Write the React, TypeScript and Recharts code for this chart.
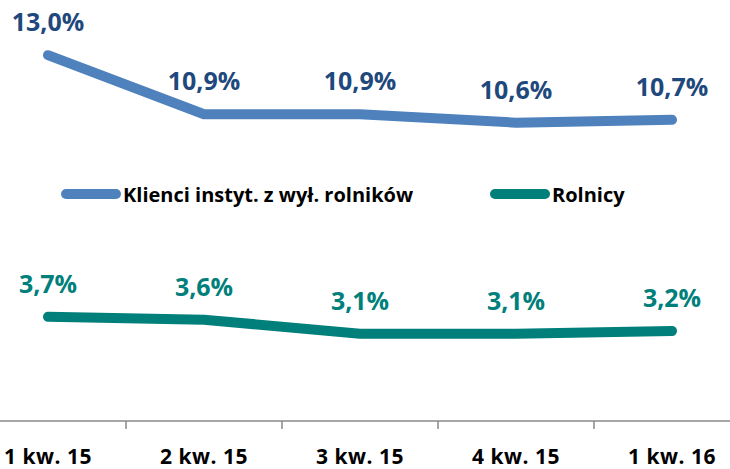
import React from "react";
import { LineChart, Line, XAxis, YAxis, LabelList } from "recharts";

const quarters = ["1 kw. 15", "2 kw. 15", "3 kw. 15", "4 kw. 15", "1 kw. 16"];
const klienci = [13.0, 10.9, 10.9, 10.6, 10.7];
const rolnicy = [3.7, 3.6, 3.1, 3.1, 3.2];
const seriesNames = ["Klienci instyt. z wył. rolników", "Rolnicy"];

const W = 730;
const H = 469;
// wykres szerszy niż okno: pierwsza i ostatnia kategoria wychodzą poza krawędź
const OVERHANG_L = 30;
const OVERHANG_R = 20;
const SVG_W = W + OVERHANG_L + OVERHANG_R;
const XAXIS_H = 48;
const AXIS_Y = H - XAXIS_H;
const MARGIN = { top: 27, right: 0, left: 0, bottom: 0 };

const LABEL_FONT = "'Liberation Sans Narrow', 'Open Sans', sans-serif";
const FONT = "'Open Sans', Lato, sans-serif";
const AXIS_GREY = "#898989";

const BLUE = "#4F81BD";
const BLUE_LABEL = "#1F497D";
const TEAL = "#007F7B";

const chartData = quarters.map((q, i) => ({
  name: q,
  klienci: klienci[i],
  rolnicy: rolnicy[i],
}));

const halfBand = SVG_W / quarters.length / 2;

const fmt = (v: number) => v.toFixed(1).replace(".", ",") + "%";

function makeLabel(color: string) {
  return (props: any) => {
    const { x, y, value } = props;
    return (
      <text
        x={x}
        y={y - 34}
        textAnchor="middle"
        dominantBaseline="central"
        fill={color}
        fontFamily={LABEL_FONT}
        fontWeight={700}
        fontSize={25}
      >
        {fmt(value)}
      </text>
    );
  };
}

// kreski podziałki między kategoriami, jak w Excelu
function QuarterTick(props: any) {
  const { x, payload, index } = props;
  return (
    <g>
      {index < quarters.length - 1 && (
        <line
          x1={x + halfBand}
          x2={x + halfBand}
          y1={AXIS_Y}
          y2={AXIS_Y + 8}
          stroke={AXIS_GREY}
          strokeWidth={1.5}
        />
      )}
      <text
        x={x}
        y={AXIS_Y + 35}
        textAnchor="middle"
        dominantBaseline="central"
        fill="#000"
        fontFamily={FONT}
        fontWeight={700}
        fontSize={21}
        letterSpacing={0.5}
      >
        {payload.value}
      </text>
    </g>
  );
}

function LegendBox() {
  const items = [
    { label: seriesNames[0], color: BLUE, left: 61 },
    { label: seriesNames[1], color: TEAL, left: 490 },
  ];
  return (
    <div style={{ position: "absolute", left: 0, top: 181, width: W, height: 26 }}>
      {items.map((it) => (
        <div
          key={it.label}
          style={{
            position: "absolute",
            left: it.left,
            top: 0,
            height: 26,
            display: "flex",
            alignItems: "center",
            fontFamily: FONT,
            fontWeight: 700,
            fontSize: 20,
            color: "#000",
            whiteSpace: "nowrap",
          }}
        >
          <span
            style={{
              display: "inline-block",
              width: 60,
              height: 10,
              borderRadius: 5,
              background: it.color,
              marginRight: 2,
            }}
          />
          {it.label}
        </div>
      ))}
    </div>
  );
}

export default function App() {
  return (
    <div
      style={{
        position: "absolute",
        left: 0,
        top: 0,
        width: W,
        height: H,
        overflow: "hidden",
        background: "#fff",
      }}
    >
      <div style={{ position: "absolute", left: -OVERHANG_L, top: 0 }}>
        <LineChart width={SVG_W} height={H} data={chartData} margin={MARGIN}>
          <XAxis
            dataKey="name"
            scale="band"
            height={XAXIS_H}
            axisLine={{ stroke: AXIS_GREY, strokeWidth: 1.5 }}
            tickLine={false}
            tick={<QuarterTick />}
            interval={0}
          />
          <YAxis hide domain={[0, 14]} />
          <Line
            dataKey="klienci"
            name={seriesNames[0]}
            stroke={BLUE}
            strokeWidth={10}
            strokeLinecap="round"
            strokeLinejoin="round"
            dot={false}
            type="linear"
            isAnimationActive={false}
          >
            <LabelList dataKey="klienci" content={makeLabel(BLUE_LABEL)} />
          </Line>
          <Line
            dataKey="rolnicy"
            name={seriesNames[1]}
            stroke={TEAL}
            strokeWidth={10}
            strokeLinecap="round"
            strokeLinejoin="round"
            dot={false}
            type="linear"
            isAnimationActive={false}
          >
            <LabelList dataKey="rolnicy" content={makeLabel(TEAL)} />
          </Line>
        </LineChart>
      </div>
      <LegendBox />
    </div>
  );
}
